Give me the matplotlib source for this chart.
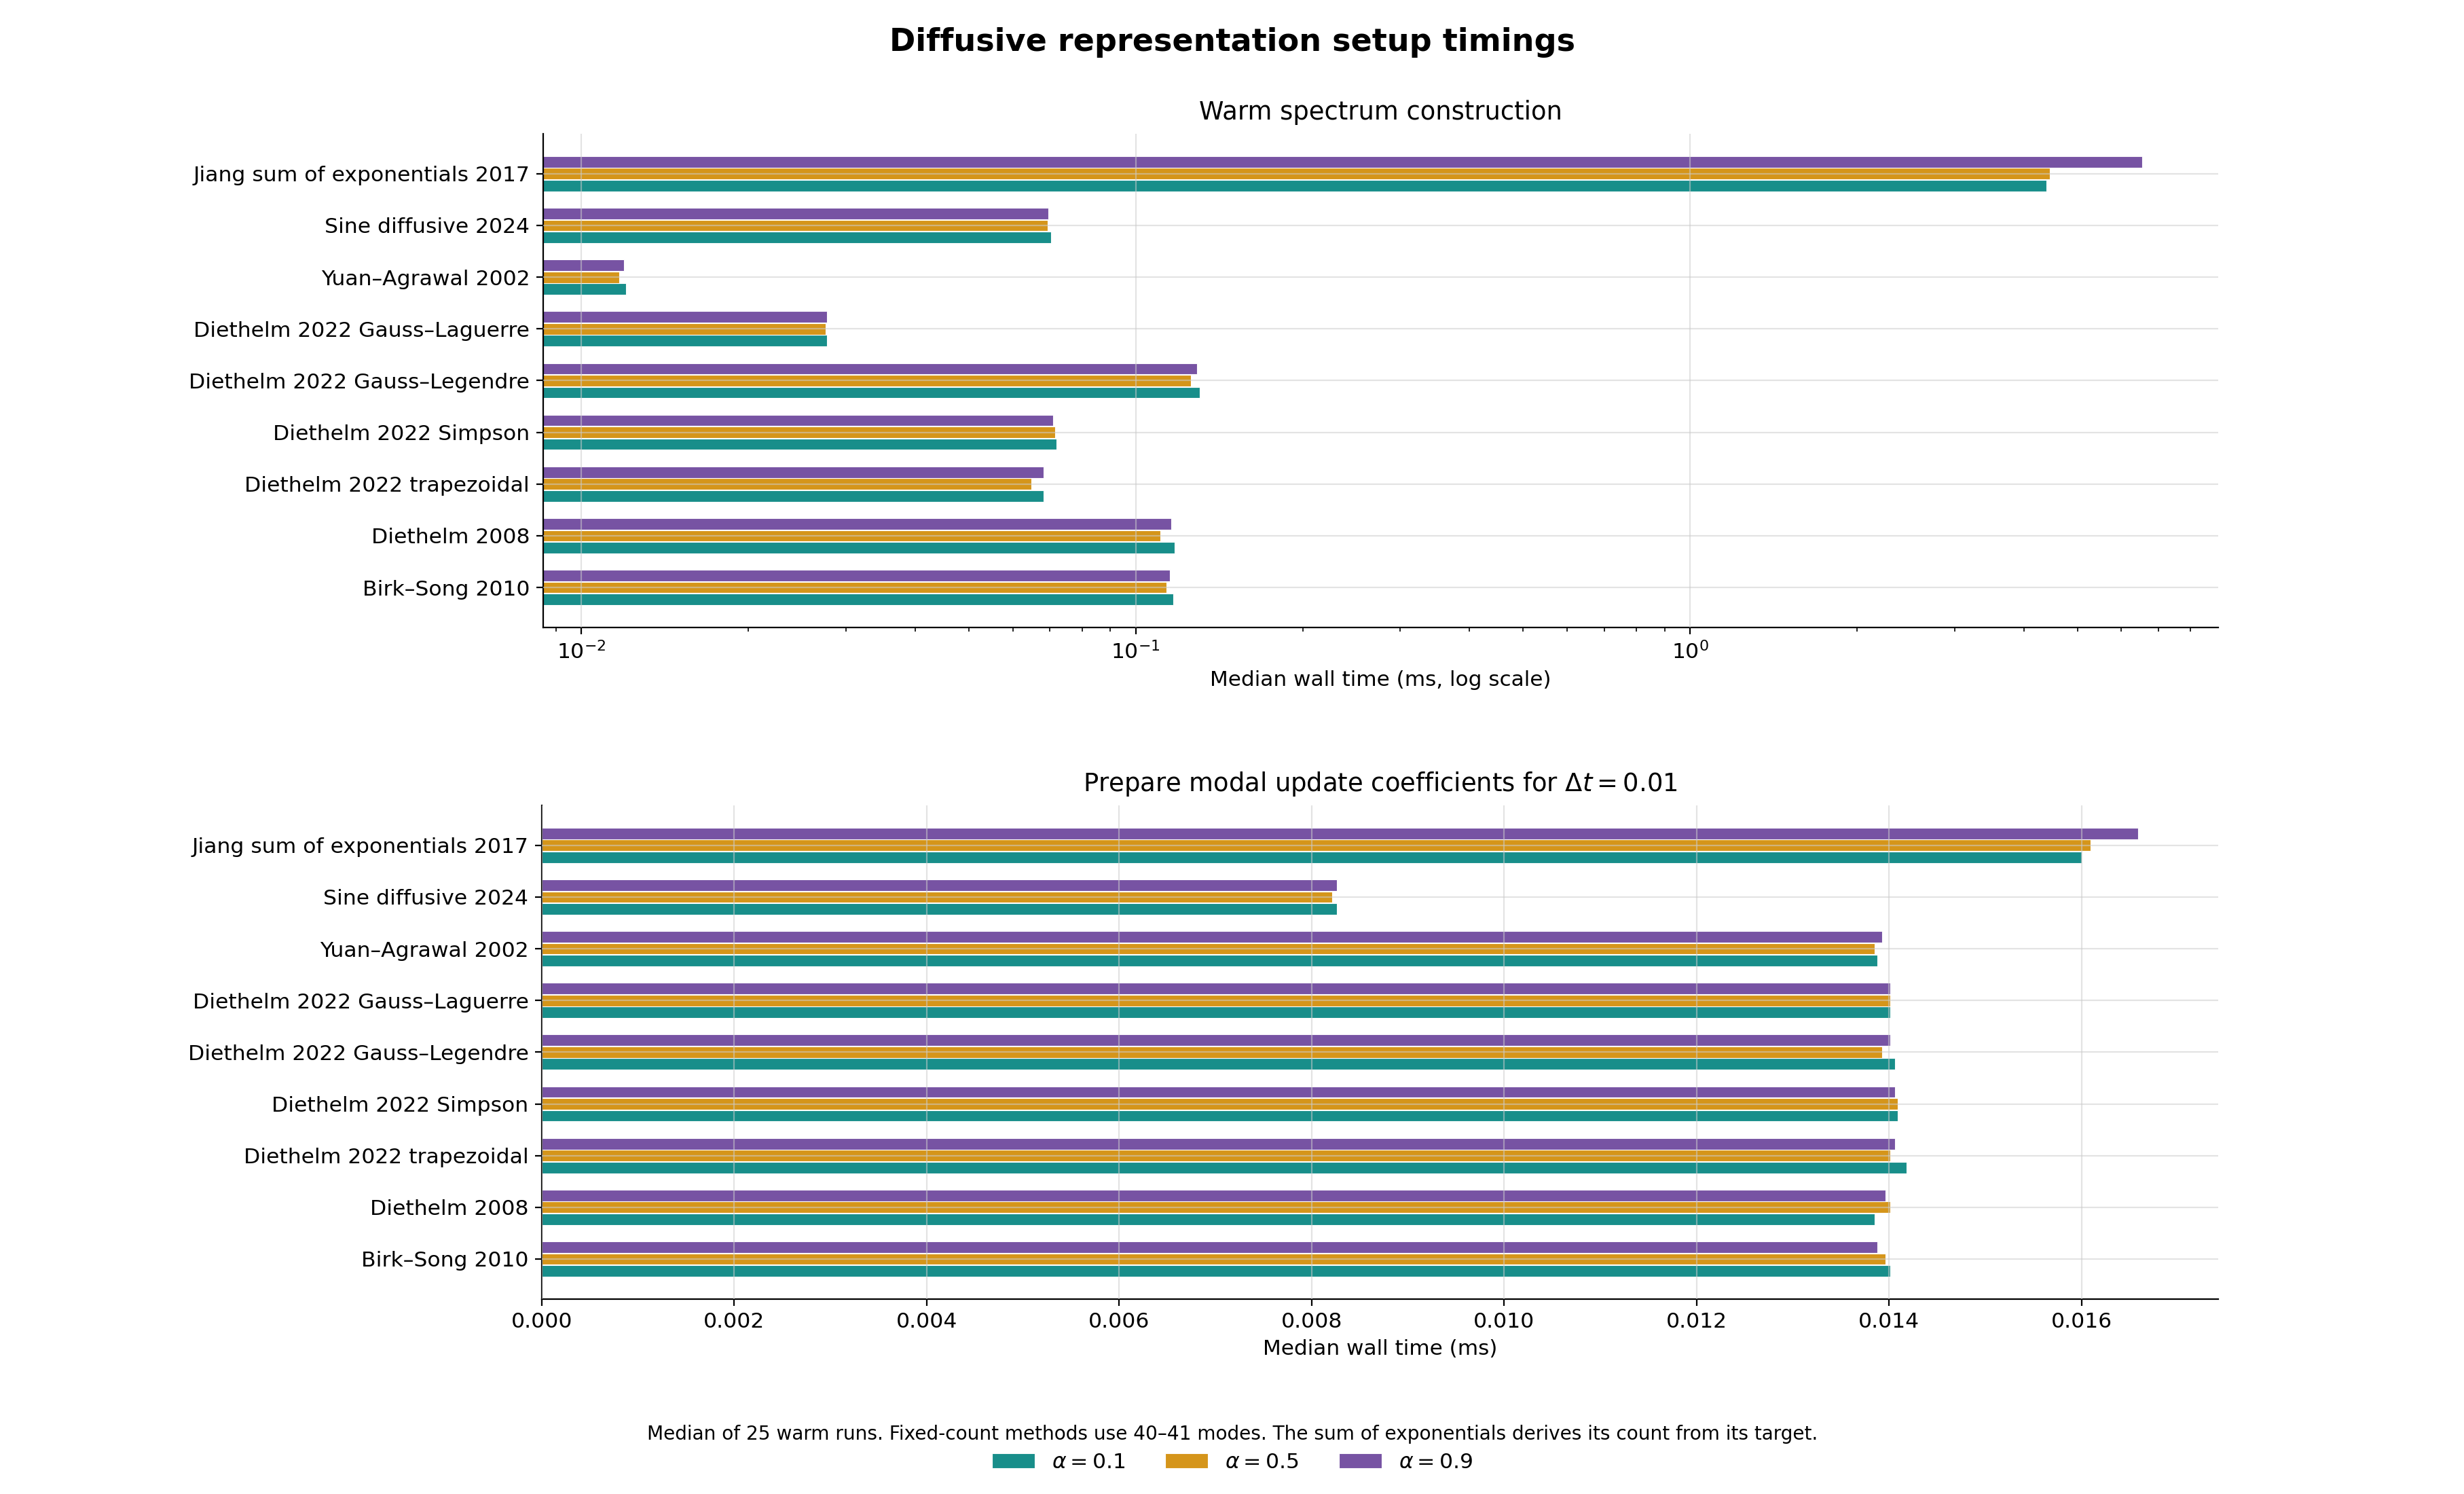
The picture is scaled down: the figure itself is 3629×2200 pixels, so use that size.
import numpy as np
import matplotlib
matplotlib.use("Agg")
import matplotlib.pyplot as plt

# methods, top to bottom as shown
methods = [
    "Jiang sum of exponentials 2017",
    "Sine diffusive 2024",
    "Yuan–Agrawal 2002",
    "Diethelm 2022 Gauss–Laguerre",
    "Diethelm 2022 Gauss–Legendre",
    "Diethelm 2022 Simpson",
    "Diethelm 2022 trapezoidal",
    "Diethelm 2008",
    "Birk–Song 2010",
]
alphas = [0.1, 0.5, 0.9]

# warm spectrum construction (ms)
warm_a01 = [4.39, 0.0704, 0.01204, 0.02775, 0.1306, 0.0720, 0.0681, 0.1176, 0.1169]
warm_a05 = [4.46, 0.0693, 0.01169, 0.02754, 0.1258, 0.0716, 0.0648, 0.1108, 0.1135]
warm_a09 = [6.54, 0.0695, 0.01192, 0.02770, 0.1288, 0.0710, 0.0681, 0.1160, 0.1153]

# modal update coefficients (ms)
prep_a01 = [0.01600, 0.00826, 0.01388, 0.01401, 0.01406, 0.01409, 0.01418, 0.01385, 0.01401]
prep_a05 = [0.01609, 0.00821, 0.01385, 0.01401, 0.01393, 0.01409, 0.01401, 0.01401, 0.01396]
prep_a09 = [0.01659, 0.00826, 0.01393, 0.01401, 0.01401, 0.01406, 0.01406, 0.01396, 0.01388]

colors = ["#188e8a", "#d5951a", "#7753a3"]

fig = plt.figure(figsize=(18.15, 11), dpi=200)
ax1 = fig.add_axes([0.2203, 0.580, 0.6797, 0.3305])
ax2 = fig.add_axes([0.2198, 0.1305, 0.6802, 0.3305])

y = np.arange(len(methods))[::-1]
h = 0.22
off = 0.23


def draw(ax, series, title, xlabel, log=False):
    for k, (vals, c, a) in enumerate(zip(series, colors, alphas)):
        ax.barh(y + (k - 1) * off, vals, height=h, color=c,
                edgecolor="white", linewidth=0.4, label=r"$\alpha = %.1f$" % a)
    if log:
        ax.set_xscale("log")
    ax.set_yticks(y)
    ax.set_yticklabels(methods, fontsize=11.3)
    ax.tick_params(axis="x", labelsize=11.3)
    ax.set_title(title, fontsize=13.3, pad=7.5)
    ax.set_xlabel(xlabel, fontsize=11.2)
    ax.grid(True, which="major", color="#cccccc", linewidth=0.8, alpha=0.55)
    ax.set_axisbelow(False)
    for s in ["top", "right"]:
        ax.spines[s].set_visible(False)


draw(ax1, [warm_a01, warm_a05, warm_a09], "Warm spectrum construction",
     "Median wall time (ms, log scale)", log=True)
draw(ax2, [prep_a01, prep_a05, prep_a09],
     r"Prepare modal update coefficients for $\Delta t = 0.01$",
     "Median wall time (ms)")
ax2.xaxis.set_major_formatter(matplotlib.ticker.FormatStrFormatter("%.3f"))

fig.suptitle("Diffusive representation setup timings", fontsize=16.6,
             fontweight="bold", y=0.9716, va="center")
fig.text(0.5, 0.04, "Median of 25 warm runs. Fixed-count methods use 40–41 modes. "
         "The sum of exponentials derives its count from its target.",
         ha="center", va="center", fontsize=10.1)
handles, labels = ax1.get_legend_handles_labels()
fig.legend(handles, labels, loc="center", bbox_to_anchor=(0.5, 0.021), ncol=3,
           frameon=False, fontsize=11.3, handlelength=2.0, columnspacing=1.9)

fig.savefig("out.png", dpi=200)
